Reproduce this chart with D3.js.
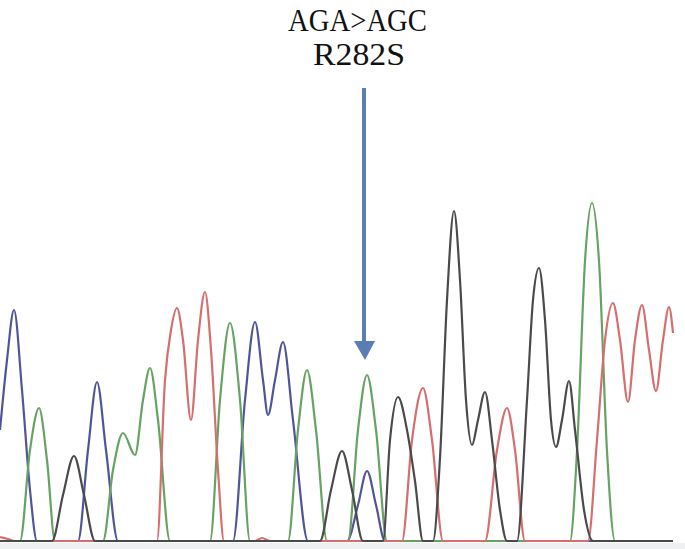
<!DOCTYPE html>
<html>
<head>
<meta charset="utf-8">
<script src="https://cdn.jsdelivr.net/npm/d3@7"></script>
<style>
  body { margin: 0; background: #fff; }
  svg { display: block; }
</style>
</head>
<body>
<div id="chart"></div>
<script>
// Chart dimensions
const width = 685;
const height = 549;
const baseY = 541;

// Trace data: [scan position, signal intensity]
const traceA = [ // green
  [0, 0], [20, 0], [30, 91], [39, 133], [47, 81], [55, 0],
  [103, 0], [113, 71], [123, 108], [135, 86], [143, 141], [150, 173], [158, 121], [170, 0],
  [210, 0], [220, 141], [230, 218], [240, 141], [250, 0],
  [288, 0], [298, 111], [307, 171], [316, 111], [327, 0],
  [348, 0], [358, 111], [367, 166], [376, 111], [387, 0],
  [570, 0], [577, 90], [585, 280], [592, 338], [599, 280], [607, 90], [615, 0], [673, 0]
];
const traceC = [ // blue
  [0, 111], [7, 181], [14, 231], [22, 151], [30, 51], [37, 0],
  [78, 0], [88, 91], [97, 159], [106, 91], [118, 0],
  [233, 0], [245, 141], [255, 219], [263, 161], [268, 126], [275, 161], [283, 199], [293, 121], [308, 0],
  [347, 0], [358, 36], [367, 70], [376, 36], [385, 0], [673, 0]
];
const traceG = [ // black
  [0, 0], [52, 0], [63, 46], [74, 85], [84, 46], [95, 0],
  [320, 0], [331, 51], [342, 90], [352, 51], [363, 0],
  [383, 0], [390, 101], [398, 144], [407, 111], [415, 60], [423, 0],
  [433, 0], [440, 83], [447, 241], [454, 330], [460, 261], [466, 141], [472, 96], [478, 121],
  [485, 149], [492, 101], [500, 31], [507, 0],
  [517, 0], [527, 141], [533, 241], [539, 273], [545, 221], [551, 121], [556, 94], [562, 121],
  [569, 160], [575, 111], [584, 31], [593, 0], [673, 0]
];
const traceT = [ // red
  [0, 4], [8, 2], [14, 0],
  [157, 0], [165, 161], [171, 211], [177, 233], [183, 201], [191, 121], [198, 201], [205, 249],
  [211, 191], [218, 71], [224, 0],
  [255, 0], [262, 3], [270, 0],
  [402, 0], [412, 101], [423, 153], [432, 101], [443, 0],
  [485, 0], [497, 91], [507, 133], [515, 91], [525, 0],
  [588, 0], [597, 101], [605, 201], [613, 238], [620, 201], [628, 139], [635, 201], [642, 236],
  [649, 191], [656, 150], [663, 201], [669, 234], [673, 208]
];

const traces = [
  { name: 'C', values: traceC, color: '#50559a' },
  { name: 'A', values: traceA, color: '#66a363' },
  { name: 'T', values: traceT, color: '#d66d6e' },
  { name: 'G', values: traceG, color: '#4a4a4a' }
];

// Mutation annotation
const mutationPos = 367;
const labelLines = ['AGA>AGC', 'R282S'];

// Scales
const xScale = d3.scaleLinear().domain([0, 685]).range([0, width]);
const yScale = d3.scaleLinear().domain([0, baseY]).range([baseY, 0]);

const svg = d3.select('#chart')
  .append('svg')
  .attr('width', width)
  .attr('height', height);

// Light strip below the baseline
svg.append('rect')
  .attr('x', 0)
  .attr('y', baseY + 2)
  .attr('width', width)
  .attr('height', height - baseY - 2)
  .attr('fill', '#eff0f2');

// Baseline
svg.append('line')
  .attr('x1', xScale(0))
  .attr('x2', xScale(673))
  .attr('y1', yScale(0))
  .attr('y2', yScale(0))
  .attr('stroke', '#3e4378')
  .attr('stroke-width', 2);

const line = d3.line()
  .x(d => xScale(d[0]))
  .y(d => yScale(d[1]))
  .curve(d3.curveMonotoneX);

svg.selectAll('.trace')
  .data(traces)
  .enter()
  .append('path')
  .attr('class', 'trace')
  .attr('d', d => line(d.values))
  .attr('fill', 'none')
  .attr('stroke', d => d.color)
  .attr('stroke-width', 2.2)
  .attr('stroke-linejoin', 'round');

// Arrow
const arrowX = xScale(mutationPos) - 3;
const arrowColor = '#5a7db3';
svg.append('line')
  .attr('x1', arrowX)
  .attr('x2', arrowX)
  .attr('y1', 88)
  .attr('y2', 345)
  .attr('stroke', arrowColor)
  .attr('stroke-width', 4);
svg.append('path')
  .attr('d', `M${arrowX - 10},341 L${arrowX + 11},341 L${arrowX + 1},360 Z`)
  .attr('fill', arrowColor);

// Label
svg.selectAll('.label')
  .data(labelLines)
  .enter()
  .append('text')
  .attr('class', 'label')
  .attr('x', (d, i) => i === 0 ? 357.5 : 359)
  .attr('y', (d, i) => 31 + i * 34)
  .attr('text-anchor', 'middle')
  .attr('font-family', 'Liberation Serif, Times New Roman, serif')
  .attr('font-size', 31)
  .attr('textLength', (d, i) => i === 0 ? 139 : 92)
  .attr('lengthAdjust', 'spacingAndGlyphs')
  .attr('fill', '#111')
  .text(d => d);
</script>
</body>
</html>
